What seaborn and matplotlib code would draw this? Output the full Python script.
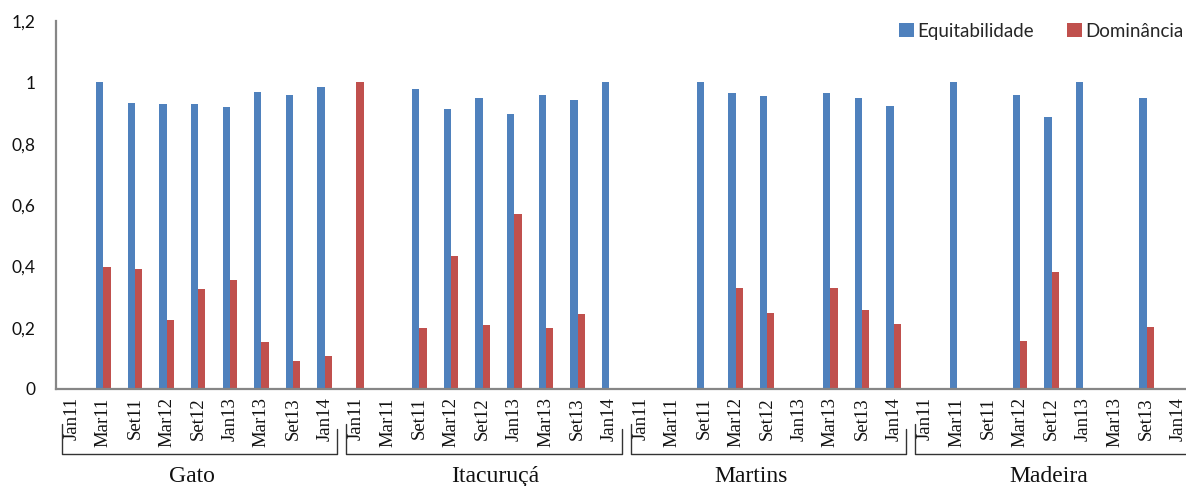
import numpy as np
import pandas as pd
from matplotlib import pyplot as plt
import matplotlib.transforms as mtransforms
from matplotlib.patches import Patch
import seaborn as sns

# Sites and sampling periods
sites = ['Gato', 'Itacuruçá', 'Martins', 'Madeira']
periods = ['Jan11', 'Mar11', 'Set11', 'Mar12', 'Set12', 'Jan13', 'Mar13', 'Set13', 'Jan14']

# Equitabilidade per site (NaN = no bar)
equit_gato = [np.nan, 1.0, 0.933, 0.929, 0.929, 0.918, 0.969, 0.960, 0.985]
equit_itacuruca = [np.nan, np.nan, 0.979, 0.913, 0.949, 0.897, 0.960, 0.943, 1.0]
equit_martins = [np.nan, np.nan, 1.0, 0.965, 0.954, np.nan, 0.965, 0.949, 0.923]
equit_madeira = [np.nan, 1.0, np.nan, 0.960, 0.887, 1.0, np.nan, 0.949, np.nan]

# Dominancia per site
domin_gato = [np.nan, 0.397, 0.391, 0.224, 0.325, 0.356, 0.152, 0.091, 0.106]
domin_itacuruca = [1.0, np.nan, 0.199, 0.433, 0.209, 0.572, 0.199, 0.244, np.nan]
domin_martins = [np.nan, np.nan, np.nan, 0.330, 0.248, np.nan, 0.330, 0.259, 0.212]
domin_madeira = [np.nan, np.nan, np.nan, 0.156, 0.381, np.nan, np.nan, 0.202, np.nan]

series_names = ['Equitabilidade', 'Dominância']
colors = ['#4F81BD', '#C0504D']

equit = [equit_gato, equit_itacuruca, equit_martins, equit_madeira]
domin = [domin_gato, domin_itacuruca, domin_martins, domin_madeira]

# Build long-form table
rows = []
keys = []
for s, site in enumerate(sites):
    for p, period in enumerate(periods):
        key = f'{site}_{period}'
        keys.append(key)
        rows.append({'pos': key, 'indice': series_names[0], 'valor': equit[s][p]})
        rows.append({'pos': key, 'indice': series_names[1], 'valor': domin[s][p]})
df = pd.DataFrame(rows).dropna()

sns.set_style('white')
plt.rcParams['font.family'] = ['Lato', 'DejaVu Sans']

fig = plt.figure(figsize=(11.86, 4.86), dpi=100)
ax = fig.add_axes([0.0472, 0.1996, 0.9595, 0.7572])

sns.barplot(data=df, x='pos', y='valor', hue='indice', order=keys,
            hue_order=series_names, palette=colors, saturation=1,
            width=0.46, linewidth=0, errorbar=None, ax=ax)

gray = '#868686'
ax.set_xlim(-0.5, len(keys) - 0.5)
ax.set_ylim(0, 1.2)
ax.set_yticks(np.arange(0, 1.21, 0.2))
ax.set_yticklabels([f'{v:g}'.replace('.', ',') for v in np.arange(0, 1.21, 0.2)],
                   fontsize=12.5, color='#111111')
ax.set_xlabel('')
ax.set_ylabel('')

# Period labels at centers, tick marks at category boundaries
ax.set_xticks(range(len(keys)))
ax.set_xticklabels(periods * len(sites), rotation=90, fontsize=13.5,
                   family='Liberation Serif', color='#111111')
ax.set_xticks(np.arange(-0.5, len(keys), 1), minor=True)
ax.tick_params(axis='x', which='major', length=0, pad=6)
ax.tick_params(axis='x', which='minor', length=5, width=1.5, color=gray, direction='out')
ax.tick_params(axis='y', length=5, width=1.5, color=gray, direction='out', pad=10)

for side in ['top', 'right']:
    ax.spines[side].set_visible(False)
for side in ['left', 'bottom']:
    ax.spines[side].set_color(gray)
    ax.spines[side].set_linewidth(1.6)

# Site brackets and names under the period labels
trans = mtransforms.blended_transform_factory(ax.transData, ax.transAxes)
name_shift = [-0.2, 0.4, -0.5, -0.1]
for s, site in enumerate(sites):
    left = 9 * s - 0.32
    right = 9 * s + 8.4 if s < len(sites) - 1 else 9 * s + 9.0
    ax.plot([left, left, right, right], [-0.095, -0.176, -0.176, -0.108],
            color='#333333', lw=1.0, transform=trans, clip_on=False)
    ax.text(9 * s + 4 + name_shift[s], -0.237, site, transform=trans,
            ha='center', va='center', fontsize=17, family='Liberation Serif',
            color='#111111')

# Legend
ax.get_legend().remove()
handles = [Patch(facecolor=c, edgecolor='none') for c in colors]
fig.legend(handles, series_names, loc='center right', bbox_to_anchor=(1.012, 0.936),
           ncol=2, frameon=False, fontsize=13.5, handlelength=0.8, handleheight=0.8,
           handletextpad=0.15, columnspacing=1.8)

fig.savefig('out.png', dpi=100)
